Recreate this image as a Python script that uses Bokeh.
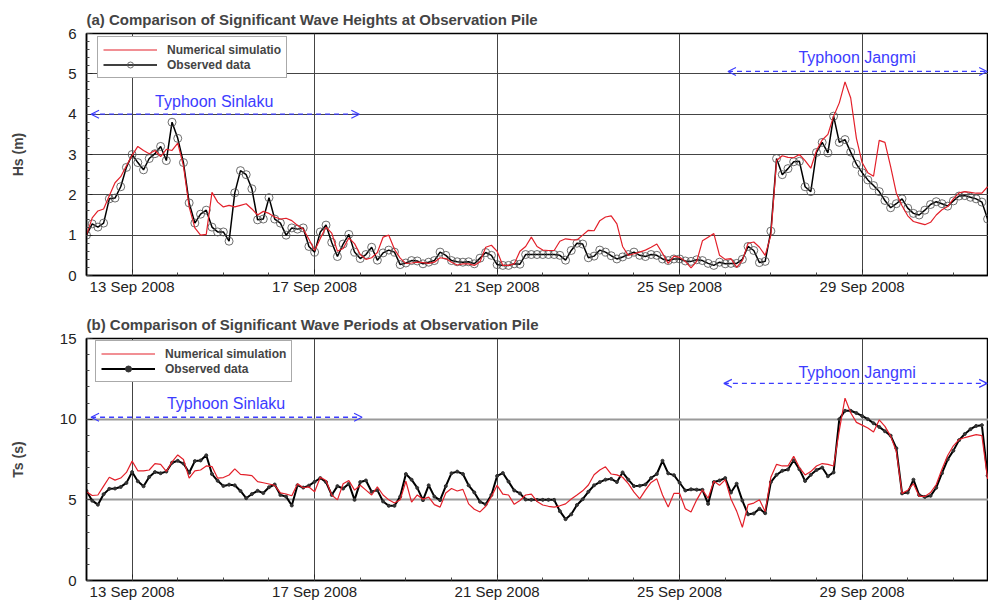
from bokeh.plotting import figure
from bokeh.layouts import column
from bokeh.models import (Range1d, FixedTicker, Legend, LegendItem, Label,
                          Arrow, OpenHead)
from bokeh.embed import file_html
from bokeh.resources import INLINE

# ---------------- data (3-hourly, hours since 12 Sep 2008 00:00) ----------------
hours = list(range(0, 477, 3))

hs_sim = [1.0, 1.43, 1.6, 1.65, 1.98, 2.3, 2.45, 2.72, 2.98, 3.2,
          3.1, 3.02, 3.1, 2.95, 3.13, 3.1, 3.28, 2.72, 1.7, 1.18,
          1.0, 1.02, 2.06, 1.82, 1.7, 1.74, 1.7, 1.74, 1.78, 1.65,
          1.5, 1.59, 1.54, 1.45, 1.4, 1.42, 1.36, 1.24, 1.15, 0.9,
          0.62, 0.92, 1.2, 1.05, 0.6, 0.67, 0.93, 0.79, 0.52, 0.4,
          0.44, 0.57, 0.95, 1.0, 0.65, 0.43, 0.3, 0.31, 0.33, 0.32,
          0.3, 0.33, 0.44, 0.42, 0.33, 0.26, 0.29, 0.29, 0.25, 0.34,
          0.7, 0.75, 0.6, 0.25, 0.25, 0.29, 0.6, 0.72, 0.95, 0.72,
          0.63, 0.62, 0.62, 0.85, 0.91, 0.89, 0.88, 1.0, 1.12, 1.11,
          1.36, 1.45, 1.48, 1.28, 0.72, 0.5, 0.54, 0.58, 0.63, 0.7,
          0.78, 0.55, 0.3, 0.48, 0.45, 0.35, 0.19, 0.35, 0.86, 0.95,
          1.04, 0.5, 0.4, 0.42, 0.2, 0.37, 0.8, 0.83, 0.7, 0.5,
          1.0, 2.85, 2.97, 2.93, 2.92, 3.0, 2.85, 2.66, 3.1, 3.36,
          3.5, 3.95, 4.28, 4.8, 4.4, 3.4, 2.8, 2.55, 2.46, 3.35,
          3.3, 2.7, 2.04, 1.73, 1.48, 1.34, 1.3, 1.26, 1.32, 1.5,
          1.63, 1.71, 1.9, 2.05, 2.08, 2.06, 2.04, 2.04, 2.2]

hs_obs = [1.0, 1.28, 1.2, 1.3, 1.9, 1.92, 2.2, 2.68, 3.0, 2.8,
          2.62, 2.9, 3.02, 3.2, 2.85, 3.8, 3.4, 2.8, 1.8, 1.3,
          1.52, 1.62, 1.2, 1.08, 1.08, 0.85, 2.05, 2.6, 2.5, 2.15,
          1.38, 1.4, 1.93, 1.4, 1.3, 1.0, 1.18, 1.15, 1.18, 0.72,
          0.58, 1.08, 1.25, 0.82, 0.47, 0.78, 1.02, 0.58, 0.42, 0.52,
          0.7, 0.38, 0.56, 0.63, 0.58, 0.27, 0.31, 0.37, 0.36, 0.29,
          0.33, 0.37, 0.58, 0.5, 0.37, 0.34, 0.33, 0.34, 0.29, 0.43,
          0.57, 0.5, 0.27, 0.25, 0.25, 0.29, 0.28, 0.52, 0.52, 0.52,
          0.52, 0.52, 0.52, 0.5, 0.38, 0.62, 0.8, 0.78, 0.44, 0.48,
          0.63, 0.58, 0.49, 0.41, 0.46, 0.52, 0.58, 0.5, 0.47, 0.52,
          0.5, 0.41, 0.37, 0.41, 0.41, 0.36, 0.35, 0.39, 0.37, 0.3,
          0.25, 0.33, 0.29, 0.3, 0.3, 0.4, 0.72, 0.62, 0.32, 0.35,
          1.1, 2.9, 2.5, 2.65, 2.82, 2.83, 2.2, 2.08, 3.05, 3.3,
          3.04, 3.95, 3.3, 3.37, 3.06, 2.76, 2.55, 2.37, 2.23, 2.08,
          1.86, 1.68, 1.78, 1.9, 1.67, 1.54, 1.5, 1.62, 1.76, 1.83,
          1.78, 1.72, 1.85, 1.97, 1.98, 1.94, 1.9, 1.82, 1.4]

ts_sim = [5.5, 5.27, 5.3, 5.85, 6.4, 6.22, 6.35, 6.7, 7.4, 6.8,
          6.8, 6.85, 7.25, 7.2, 6.76, 7.35, 7.78, 7.5, 6.35, 6.8,
          6.85, 7.1, 7.06, 6.34, 6.38, 6.54, 6.92, 6.58, 6.55, 6.5,
          6.13, 6.06, 5.98, 5.9, 5.43, 5.36, 5.25, 6.0, 5.75, 5.8,
          5.5, 6.4, 6.2, 5.3, 5.0, 6.0, 6.2, 5.6, 5.9, 5.6,
          5.3, 5.8, 5.3, 5.0, 4.8, 5.0, 6.15, 4.86, 5.3, 5.04,
          5.17, 4.7, 4.55, 5.42, 5.7, 5.55, 5.65, 4.75, 4.42, 4.25,
          4.6, 5.2, 5.9, 5.35, 5.3, 4.72, 4.96, 5.3, 5.35, 4.9,
          4.68, 4.6, 4.55, 4.63, 4.75, 5.05, 5.3, 5.56, 5.92, 6.55,
          6.85, 7.05, 6.6, 6.55, 6.4, 6.0, 5.48, 5.06, 5.6, 6.08,
          6.3, 5.3, 4.55, 5.4, 5.4, 4.45, 4.25, 5.0, 5.62, 5.1,
          6.15, 5.9, 6.25, 5.05, 4.3, 3.3, 4.7, 4.8, 5.0, 4.27,
          6.4, 7.2, 7.1, 7.1, 7.7, 7.0, 6.54, 6.75, 7.1, 7.25,
          7.2, 7.1, 9.3, 11.3, 10.4, 9.8, 9.63, 9.45, 9.2, 9.95,
          9.55, 8.95, 8.0, 5.4, 5.6, 6.0, 5.22, 5.21, 5.45, 5.95,
          6.9, 7.75, 8.35, 8.73, 8.86, 8.95, 9.04, 8.98, 6.3]

ts_obs = [5.55, 4.95, 4.7, 5.35, 5.68, 5.7, 5.8, 6.05, 6.72, 6.15,
          5.84, 6.42, 6.72, 6.65, 6.75, 7.3, 7.42, 7.25, 6.68, 7.4,
          7.44, 7.76, 6.6, 6.18, 5.86, 5.94, 5.9, 5.55, 5.1, 5.36,
          5.56, 5.42, 5.78, 5.95, 5.3, 5.2, 4.65, 5.9, 5.76, 5.88,
          6.12, 6.35, 6.1, 5.3, 5.85, 5.7, 6.0, 5.0, 6.1, 6.2,
          5.5, 5.6, 4.9, 4.63, 4.63, 5.2, 6.6, 6.25, 5.74, 4.98,
          5.9, 5.2, 4.98, 5.85, 6.65, 6.75, 6.6, 5.9, 5.46, 4.88,
          4.72, 5.3, 6.48, 6.66, 6.13, 5.58, 5.4, 5.02, 5.0, 5.0,
          5.0, 5.0, 5.0, 4.3, 3.8, 4.1, 4.68, 5.04, 5.5, 5.9,
          6.1, 6.25, 6.3, 6.1, 6.7, 6.25, 5.85, 5.87, 5.95, 6.35,
          6.6, 7.42, 6.64, 6.53, 6.06, 5.58, 5.65, 5.63, 5.62, 4.75,
          6.1, 6.2, 6.35, 5.45, 6.0, 4.95, 4.1, 4.15, 4.45, 4.17,
          6.1, 6.55, 6.8, 6.88, 7.45, 6.9, 6.17, 6.55, 6.85, 7.0,
          6.46, 6.7, 10.0, 10.52, 10.52, 10.38, 10.2, 10.0, 9.75, 9.52,
          9.25, 8.98, 8.2, 5.4, 5.45, 6.25, 5.3, 5.18, 5.25, 5.75,
          6.65, 7.5, 8.05, 8.7, 9.08, 9.38, 9.58, 9.63, 6.5]

tick_days = [1, 5, 9, 13, 17]
tick_labels = ["13 Sep 2008", "17 Sep 2008", "21 Sep 2008", "25 Sep 2008", "29 Sep 2008"]

days = [h / 24.0 for h in hours]

FONT = "Liberation Sans"
RED = "#e3202a"
BLUE = "#3c3cff"
X_END = 19.77


def style(p, yticks, yminor, ylabel, label_standoff, hgrid_color, hgrid_width):
    p.outline_line_color = "black"
    p.outline_line_width = 1.5
    p.xaxis.ticker = FixedTicker(ticks=tick_days, minor_ticks=list(range(0, 21)))
    p.xaxis.major_label_overrides = {d: t for d, t in zip(tick_days, tick_labels)}
    p.yaxis.ticker = FixedTicker(ticks=yticks, minor_ticks=yminor)
    for ax in (p.xaxis, p.yaxis):
        ax.major_tick_in = 6
        ax.major_tick_out = 0
        ax.minor_tick_in = 3
        ax.minor_tick_out = 0
        ax.axis_line_color = "black"
        ax.axis_line_width = 1.5
        ax.major_tick_line_color = "#222222"
        ax.minor_tick_line_color = "#444444"
        ax.major_label_text_font = FONT
        ax.major_label_text_font_size = "15px"
        ax.major_label_text_color = "#222222"
    p.xaxis.major_label_standoff = 2
    p.yaxis.major_label_standoff = 10
    p.yaxis.axis_label = ylabel
    p.yaxis.axis_label_text_font = FONT
    p.yaxis.axis_label_text_font_style = "bold"
    p.yaxis.axis_label_text_font_size = "14px"
    p.yaxis.axis_label_standoff = label_standoff
    p.xgrid.grid_line_color = "#444444"
    p.xgrid.grid_line_width = 1
    p.ygrid.grid_line_color = hgrid_color
    p.ygrid.grid_line_width = hgrid_width
    p.title.text_font = FONT
    p.title.text_font_size = "15px"
    p.title.text_font_style = "bold"
    p.title.align = "left"
    p.title.offset = 0
    p.title.standoff = 11


def make_legend(p, sim_label, r_sim, obs_renderers, loc):
    lg = Legend(items=[LegendItem(label=sim_label, renderers=[r_sim]),
                       LegendItem(label="Observed data", renderers=obs_renderers)],
                location=loc, margin=0, padding=5, spacing=0,
                glyph_width=54, glyph_height=15, label_height=15, label_standoff=10,
                border_line_color="#555555", border_line_width=1,
                background_fill_color="white", background_fill_alpha=1,
                label_text_font=FONT, label_text_font_style="bold",
                label_text_font_size="12px")
    p.add_layout(lg)


def typhoon(p, tx, ty, text, x0, x1, ya):
    p.add_layout(Arrow(start=OpenHead(size=8, line_color=BLUE, line_width=1.2),
                       end=OpenHead(size=8, line_color=BLUE, line_width=1.2),
                       x_start=x0, y_start=ya, x_end=x1, y_end=ya,
                       line_color=BLUE, line_width=1.3, line_dash="5 4"))
    p.add_layout(Label(x=tx, y=ty, text=text, text_align="center",
                       text_baseline="middle", text_color=BLUE,
                       text_font=FONT, text_font_size="16px"))


# ---------------- (a) wave heights ----------------
p1 = figure(width=988, height=300, x_range=Range1d(0, X_END), y_range=Range1d(0, 6),
            output_backend="svg", toolbar_location=None,
            title="(a) Comparison of Significant Wave Heights at Observation Pile",
            min_border_left=86, min_border_right=0, min_border_top=33, min_border_bottom=25)
style(p1, [0, 1, 2, 3, 4, 5, 6], [i * 0.2 for i in range(31)], "Hs (m)", 39, "#444444", 1)

o1 = p1.line(days, hs_obs, line_color="black", line_width=1.5)
o1m = p1.scatter(days, hs_obs, marker="circle", size=8, fill_color=None,
                 line_color="#555555", line_alpha=0.85, line_width=1)
s1 = p1.line(days, hs_sim, line_color=RED, line_width=1.2)
make_legend(p1, "Numerical simulatio", s1, [o1, o1m], (11, 197))
typhoon(p1, 2.80, 4.31, "Typhoon Sinlaku", 0.1, 5.98, 4.0)
typhoon(p1, 16.89, 5.41, "Typhoon Jangmi", 14.06, 19.74, 5.06)

# ---------------- (b) wave periods ----------------
p2 = figure(width=988, height=302, x_range=Range1d(0, X_END), y_range=Range1d(0, 15),
            output_backend="svg", toolbar_location=None,
            title="(b) Comparison of Significant Wave Periods at Observation Pile",
            min_border_left=86, min_border_right=0, min_border_top=38, min_border_bottom=21)
style(p2, [0, 5, 10, 15], list(range(0, 16)), "Ts (s)", 31, "#9a9a9a", 2)

o2 = p2.line(days, ts_obs, line_color="black", line_width=2)
o2m = p2.scatter(days, ts_obs, marker="circle", size=3, fill_color="#333333",
                 line_color="#333333")
s2 = p2.line(days, ts_sim, line_color=RED, line_width=1.2)
make_legend(p2, "Numerical simulation", s2, [o2, o2m], (9, 198))
typhoon(p2, 3.06, 10.99, "Typhoon Sinlaku", 0.1, 6.04, 10.12)
typhoon(p2, 16.89, 12.9, "Typhoon Jangmi", 13.97, 19.74, 12.22)

layout = column(p1, p2, spacing=0)
open("out.html", "w").write(file_html(layout, INLINE))
